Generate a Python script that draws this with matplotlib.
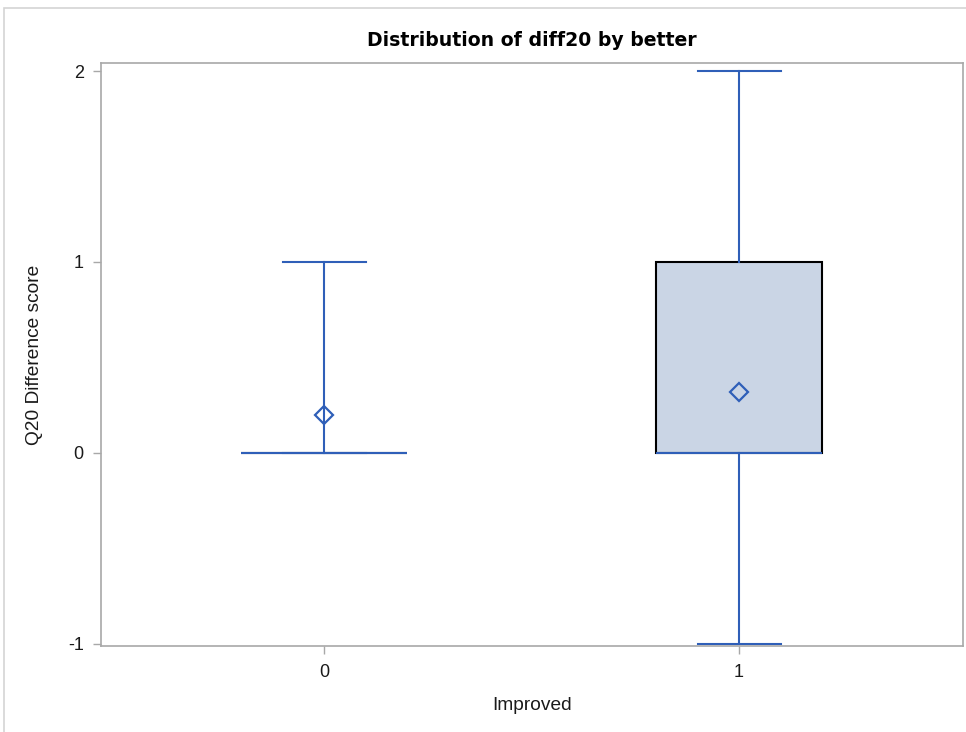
import matplotlib
matplotlib.use("Agg")
import matplotlib.pyplot as plt
from matplotlib.patches import Rectangle

# Summary statistics of diff20 for each level of "better"
groups = ["0", "1"]
whisker_low = [0, -1]
q1 = [0, 0]
median = [0, 0]
q3 = [0, 1]
whisker_high = [1, 2]
means = [0.2, 0.32]

title = "Distribution of diff20 by better"
xlabel = "Improved"
ylabel = "Q20 Difference score"
yticks = [-1, 0, 1, 2]

line_blue = "#2F5FB8"
box_fill = "#CAD5E5"
axis_gray = "#A8A8A8"

W, H = 966, 732
fig = plt.figure(figsize=(W / 100, H / 100), dpi=100)
fig.patch.set_facecolor("white")

# thin frame around the graph area
fig.add_artist(Rectangle((4 / W, -0.05), 1.1, 1.05 - 8 / H,
                         transform=fig.transFigure, fill=False,
                         edgecolor="#D4D4D4", linewidth=1.2))

left, right, top, bottom = 100.5, 963, 63, 646
ax = fig.add_axes([left / W, (H - bottom) / H, (right - left) / W, (bottom - top) / H])

stats = []
for i, g in enumerate(groups):
    stats.append(dict(label=g, whislo=whisker_low[i], q1=q1[i], med=median[i],
                      q3=q3[i], whishi=whisker_high[i], mean=means[i], fliers=[]))

positions = list(range(len(groups)))
ax.bxp(stats, positions=positions, widths=0.4, capwidths=0.2,
       showmeans=True, patch_artist=True, showfliers=False,
       boxprops=dict(facecolor=box_fill, edgecolor="black", linewidth=1.5),
       whiskerprops=dict(color=line_blue, linewidth=1.5),
       capprops=dict(color=line_blue, linewidth=1.5),
       medianprops=dict(color=line_blue, linewidth=1.5, zorder=5),
       meanprops=dict(marker="D", markersize=9, markerfacecolor="none",
                      markeredgecolor=line_blue, markeredgewidth=1.6))

ax.set_xlim(-0.54, 1.54)
ax.set_ylim(-1.012, 2.042)
ax.set_yticks(yticks)
ax.set_yticklabels([str(t) for t in yticks])
ax.set_xticks(positions)
ax.set_xticklabels(groups)

for lbl in ax.get_xticklabels() + ax.get_yticklabels():
    lbl.set_fontfamily("Liberation Sans")
    lbl.set_fontsize(13)
    lbl.set_color("#1a1a1a")

ax.tick_params(axis="both", color=axis_gray, length=6, width=1)
ax.tick_params(axis="y", pad=6)
ax.tick_params(axis="x", pad=7)
for sp in ax.spines.values():
    sp.set_color(axis_gray)
    sp.set_linewidth(1.2)

label_font = dict(family="Liberation Sans", size=13.8, color="#1a1a1a")
ax.set_ylabel(ylabel, fontdict=label_font, va="center")
ax.yaxis.set_label_coords((35 - left) / (right - left), 0.5)
ax.set_xlabel(xlabel, fontdict=label_font, va="center")
ax.xaxis.set_label_coords(0.5, -(706 - bottom) / (bottom - top))

fig.text((left + right) / 2 / W, 1 - 40 / H, title, ha="center", va="center",
         fontsize=13.6, fontweight="bold", family="DejaVu Sans", color="black")

fig.savefig("out.png", dpi=100)
